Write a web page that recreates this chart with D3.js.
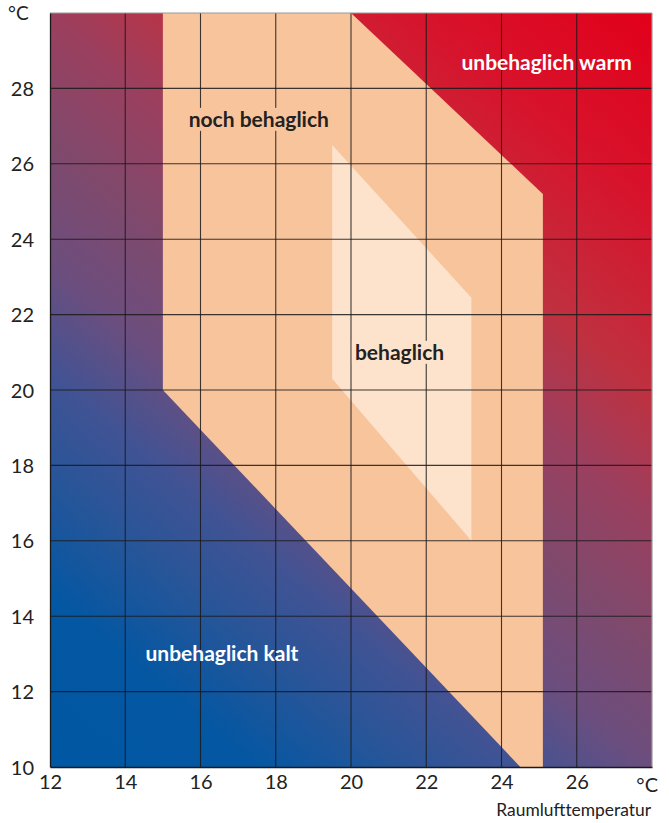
<!DOCTYPE html>
<html><head><meta charset="utf-8">
<script src="https://cdn.jsdelivr.net/npm/d3@7"></script>
<style>body{margin:0;background:#fff}</style>
</head><body><svg id="c" width="669" height="823"></svg>
<script>
// ---- data ----
const xDomain = [12, 28];
const yDomain = [10, 30];
const xTicks = [12, 14, 16, 18, 20, 22, 24, 26];
const yTicks = [10, 12, 14, 16, 18, 20, 22, 24, 26, 28];
const unitLabel = "°C";
const xTitle = "Raumlufttemperatur";
// zone polygons [Raumlufttemperatur, Oberflächentemperatur]
const zoneNochBehaglich = [[15, 30], [20, 30], [25.1, 25.2], [25.1, 10], [24.5, 10], [15, 20]];
const zoneBehaglich = [[19.5, 26.5], [23.2, 22.45], [23.2, 16], [19.5, 20.3]];
const zoneNames = ["noch behaglich", "behaglich", "unbehaglich warm", "unbehaglich kalt"];
const zoneLabelAt = [[17.55, 26.98], [21.29, 20.8], [25.2, 28.5], [16.57, 12.8]];

// ---- layout ----
const W = 669, H = 823;
const m = {l: 50, r: 17, t: 13, b: 56};
const svg = d3.select("#c");
const x = d3.scaleLinear().domain(xDomain).range([m.l, W - m.r]);
const y = d3.scaleLinear().domain(yDomain).range([H - m.b, m.t]);
const font = "Lato, 'Open Sans', sans-serif";

const defs = svg.append("defs");
const g = defs.append("linearGradient").attr("id", "bg")
  .attr("x1", 0).attr("y1", 1).attr("x2", 0.769).attr("y2", -0.154);
[[0, "#0057A3"], [0.14, "#0557A2"], [0.24, "#2A5598"], [0.31, "#405394"], [0.4, "#6C4E7E"], [0.5, "#80496C"], [0.6, "#9C3F5E"], [0.7, "#C0303F"], [0.85, "#D8122B"], [1, "#E2001A"]]
  .forEach(([o, c]) => g.append("stop").attr("offset", o).attr("stop-color", c));

svg.append("rect").attr("x", x(xDomain[0])).attr("y", y(yDomain[1]))
  .attr("width", x(xDomain[1]) - x(xDomain[0])).attr("height", y(yDomain[0]) - y(yDomain[1]))
  .attr("fill", "url(#bg)");

const line = d3.line().x(d => x(d[0])).y(d => y(d[1]));
svg.append("path").attr("d", line(zoneNochBehaglich) + "Z").attr("fill", "#F8C49C");
svg.append("path").attr("d", line(zoneBehaglich) + "Z").attr("fill", "#FDE2CC");

// grid
const grid = svg.append("g").attr("stroke", "#1a1a1a").attr("stroke-width", 1.1).attr("stroke-opacity", 0.85);
xTicks.slice(1).forEach(v => grid.append("line").attr("x1", x(v)).attr("x2", x(v)).attr("y1", y(yDomain[0])).attr("y2", y(yDomain[1])));
yTicks.slice(1).forEach(v => grid.append("line").attr("y1", y(v)).attr("y2", y(v)).attr("x1", x(xDomain[0])).attr("x2", x(xDomain[1])));

// border
svg.append("line").attr("x1", x(xDomain[0])).attr("x2", x(xDomain[1])).attr("y1", y(yDomain[1])).attr("y2", y(yDomain[1])).attr("stroke", "#999").attr("stroke-width", 1.2);
svg.append("line").attr("x1", x(xDomain[1])).attr("x2", x(xDomain[1])).attr("y1", y(yDomain[0])).attr("y2", y(yDomain[1])).attr("stroke", "#999").attr("stroke-width", 1.2);

// axes
const xAxis = d3.axisBottom(x).tickValues(xTicks).tickSize(0).tickPadding(8).tickFormat(d3.format("d"));
const yAxis = d3.axisLeft(y).tickValues(yTicks).tickSize(0).tickPadding(16).tickFormat(d3.format("d"));
const gx = svg.append("g").attr("transform", `translate(0,${y(yDomain[0])})`).call(xAxis);
const gy = svg.append("g").attr("transform", `translate(${x(xDomain[0])},0)`).call(yAxis);
[gx, gy].forEach(a => {
  a.select(".domain").attr("stroke", "#1a1a1a").attr("stroke-width", 1.3);
  a.selectAll("text").attr("font-family", font).attr("font-size", 20).attr("fill", "#222");
});
gy.selectAll("text").attr("dy", "0.35em");
svg.append("text").attr("x", 8).attr("y", 20).attr("font-family", font).attr("font-size", 19).attr("fill", "#222").text(unitLabel);
svg.append("text").attr("x", x(xDomain[1]) + 6).attr("y", 792).attr("text-anchor", "end").attr("font-family", font).attr("font-size", 20).attr("fill", "#222").text(unitLabel);
svg.append("text").attr("x", x(xDomain[1]) - 1).attr("y", 816).attr("text-anchor", "end").attr("font-family", font).attr("font-size", 17.4).attr("fill", "#222").text(xTitle);

// zone labels
const lblColors = ["#222", "#222", "#fff", "#fff"];
const halo = ["#F8C49C", "#FDE2CC", null, null];
zoneNames.forEach((n, i) => {
  const t = svg.append("text").attr("x", x(zoneLabelAt[i][0])).attr("y", y(zoneLabelAt[i][1]))
    .attr("text-anchor", "middle").attr("font-family", font).attr("font-weight", "bold")
    .attr("font-size", 21).attr("fill", lblColors[i]).text(n);
  if (halo[i]) {
    const b = t.node().getBBox();
    svg.insert("rect", () => t.node()).attr("x", b.x - 3).attr("y", b.y + 2).attr("width", b.width + 6).attr("height", b.height - 2).attr("fill", halo[i]);
  }
});
</script></body></html>
